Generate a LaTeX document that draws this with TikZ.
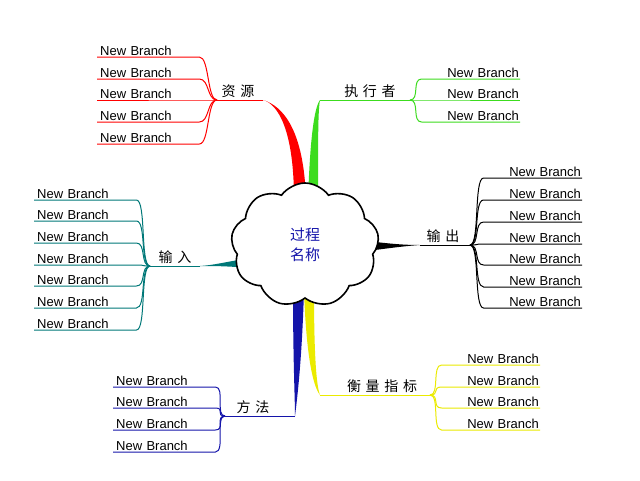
\documentclass[tikz,border=0pt]{standalone}
\usepackage{fontspec}
\setmainfont{Liberation Sans}
\newfontfamily\cjk{Noto Sans CJK SC}
\usetikzlibrary{shapes.symbols}
\definecolor{cg}{RGB}{60,220,30}
\definecolor{ct}{RGB}{0,120,120}
\definecolor{cb}{RGB}{20,20,170}
\definecolor{cy}{RGB}{235,235,0}
\begin{document}
\begin{tikzpicture}[x=1pt,y=-1pt,
  leaf/.style={text width=96pt,align=left,inner xsep=3pt,inner ysep=1pt,font=\fontsize{13}{15}\selectfont},
  rleaf/.style={leaf,align=right,inner xsep=1pt},
  lab/.style={font=\cjk\fontsize{14}{16}\selectfont,inner sep=1pt},
  br/.style={line width=1pt}]
\useasboundingbox[fill=white] (0,0) rectangle (640,480);
% tapers
\fill[red] (294,200) .. controls (294,130) and (278,104) .. (263,100) .. controls (283,106) and (304,130) .. (306,200) -- cycle;
\fill[cg] (308,200) .. controls (310,140) and (314,108) .. (320,100) .. controls (318,110) and (318,140) .. (318,200) -- cycle;
\fill[black] (360,240) .. controls (390,244) and (405,245) .. (420,245) .. controls (405,246) and (390,248) .. (360,252) -- cycle;
\fill[ct] (250,258) .. controls (225,262) and (215,265) .. (200,266) .. controls (215,266) and (225,266) .. (250,268) -- cycle;
\fill[cb] (293,290) .. controls (293,360) and (295,400) .. (295,416) .. controls (297,400) and (302,360) .. (304,290) -- cycle;
\fill[cy] (304,290) .. controls (306,350) and (312,385) .. (320,395) .. controls (316,385) and (314,350) .. (314,290) -- cycle;
\node[cloud,cloud puffs=9,cloud puff arc=110,aspect=1.2,draw,fill=white,line width=1.6pt,minimum width=148pt,minimum height=124pt,align=center,text=cb,font=\cjk\fontsize{15}{20}\selectfont] (c) at (305,245) {过程\\名称};
% branch lines and labels
\coordinate (r0) at (263,100); \coordinate (rh) at (217,100);
\draw[red,br] (r0) -- (rh); \node[lab,anchor=south] (rl) at (238,99) {资\,\,源};
\coordinate (g0) at (320,100); \coordinate (gh) at (410,100);
\draw[cg,br] (g0) -- (gh); \node[lab,anchor=south] (gl) at (370,99) {执\,\,行\,\,者};
\coordinate (k0) at (420,245); \coordinate (kh) at (470,245);
\draw[black,br] (k0) -- (kh); \node[lab,anchor=south] (kl) at (443,244) {输\,\,出};
\coordinate (t0) at (200,266); \coordinate (th) at (150,266);
\draw[ct,br] (t0) -- (th); \node[lab,anchor=south] (tl) at (175,265) {输\,\,入};
\coordinate (b0) at (295,416); \coordinate (bh) at (225,416);
\draw[cb,br] (b0) -- (bh); \node[lab,anchor=south] (bl) at (253,415) {方\,\,法};
\coordinate (y0) at (320,395); \coordinate (yh) at (430,395);
\draw[cy,br] (y0) -- (yh); \node[lab,anchor=south] (yl) at (382,394) {衡\,\,量\,\,指\,\,标};
% leaves: left side
\foreach \y [count=\i] in {57,79,100,122,144}{
  \node[leaf,anchor=south west] (R\i) at (97,\y) {New Branch};
  \draw[red,br] (rh) .. controls +(-10,0) and +(10,0) .. (R\i.south east) -- (R\i.south west);}
\foreach \y [count=\i] in {200,221,243,265,286,308,330}{
  \node[leaf,anchor=south west] (T\i) at (34,\y) {New Branch};
  \draw[ct,br] (th) .. controls +(-10,0) and +(10,0) .. (T\i.south east) -- (T\i.south west);}
\foreach \y [count=\i] in {387,408,430,452}{
  \node[leaf,anchor=south west] (B\i) at (113,\y) {New Branch};
  \draw[cb,br] (bh) .. controls +(-10,0) and +(10,0) .. (B\i.south east) -- (B\i.south west);}
% right side
\foreach \y [count=\i] in {79,100,122}{
  \node[rleaf,anchor=south east] (G\i) at (520,\y) {New Branch};
  \draw[cg,br] (gh) .. controls +(10,0) and +(-10,0) .. (G\i.south west) -- (G\i.south east);}
\foreach \y [count=\i] in {178,200,222,244,265,287,308}{
  \node[rleaf,anchor=south east] (K\i) at (582,\y) {New Branch};
  \draw[black,br] (kh) .. controls +(10,0) and +(-10,0) .. (K\i.south west) -- (K\i.south east);}
\foreach \y [count=\i] in {365,387,408,430}{
  \node[rleaf,anchor=south east] (Y\i) at (540,\y) {New Branch};
  \draw[cy,br] (yh) .. controls +(10,0) and +(-10,0) .. (Y\i.south west) -- (Y\i.south east);}
\end{tikzpicture}
\end{document}
